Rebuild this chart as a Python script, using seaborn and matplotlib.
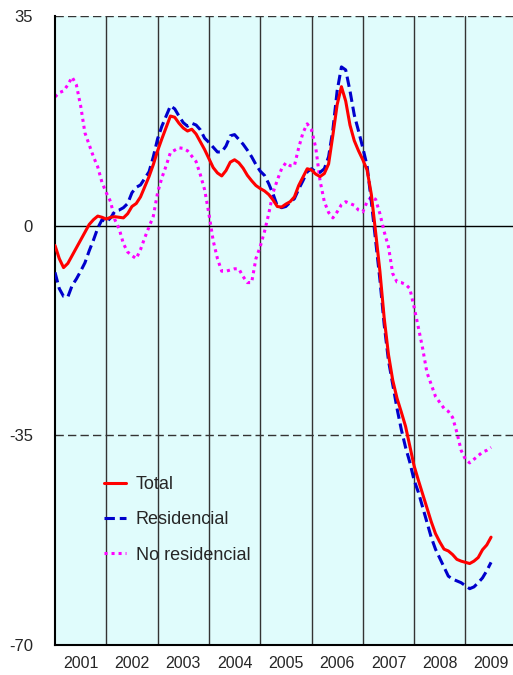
import numpy as np
import pandas as pd
import seaborn as sns
import matplotlib.pyplot as plt

# monthly series, Jan 2001 - Jul 2009
total = [-3.3, -5.5, -7.0, -6.3, -5.0, -3.7, -2.4, -1.1, 0.2, 1.0, 1.6, 1.4,
         1.1, 1.4, 1.5, 1.4, 1.3, 2.0, 3.2, 3.7, 4.8, 6.5, 8.2, 10.2,
         12.5, 14.5, 16.4, 18.3, 18.1, 17.1, 16.3, 15.8, 16.1, 15.3, 14.0, 12.7,
         11.2, 9.7, 8.8, 8.3, 9.2, 10.6, 11.0, 10.5, 9.6, 8.4, 7.5, 6.7,
         6.2, 5.8, 5.2, 4.3, 3.2, 3.1, 3.6, 4.0, 4.8, 6.7, 8.1, 9.5,
         9.3, 8.6, 8.2, 8.7, 10.3, 15.1, 20.2, 23.2, 20.8, 16.8, 14.2, 12.5,
         11.0, 9.3, 5.2, -1.1, -7.6, -15.4, -21.5, -25.8, -28.8, -31.1, -33.5, -36.8,
         -40.1, -42.5, -44.8, -47.1, -49.4, -51.4, -52.8, -54.0, -54.3, -54.9, -55.7, -56.0,
         -56.2, -56.4, -56.0, -55.4, -54.1, -53.3, -52.0]
residencial = [-7.8, -10.5, -11.8, -11.9, -10.0, -8.9, -7.6, -6.2, -4.2, -2.4, -0.4, 1.0,
               0.6, 1.3, 2.4, 2.6, 3.0, 3.7, 5.5, 6.4, 6.8, 7.9, 9.0, 11.5,
               14.5, 16.6, 18.3, 20.0, 19.5, 18.3, 17.2, 16.6, 17.1, 16.8, 16.0, 14.6,
               13.9, 13.1, 12.3, 12.3, 13.3, 15.0, 15.2, 14.4, 13.6, 12.6, 11.5, 10.2,
               9.1, 8.4, 7.0, 5.3, 3.3, 3.0, 3.2, 3.9, 4.5, 6.1, 7.5, 9.0,
               9.5, 9.0, 8.9, 9.5, 11.5, 16.0, 22.5, 26.5, 26.0, 22.5, 18.5, 15.8,
               13.0, 10.0, 4.0, -2.5, -9.0, -16.5, -22.5, -26.5, -30.5, -34.0, -37.0, -39.5,
               -42.5, -44.5, -47.0, -49.5, -52.0, -54.0, -55.5, -57.0, -58.5, -59.0, -59.3, -59.6,
               -60.1, -60.6, -60.3, -59.6, -58.8, -57.6, -56.2]
no_residencial = [21.5, 22.2, 22.5, 23.5, 24.8, 23.5, 20.0, 15.5, 13.5, 11.5, 9.8, 7.2,
                  5.5, 4.0, 1.0, -0.5, -3.0, -4.4, -5.0, -5.5, -4.0, -2.0, -0.2, 1.6,
                  5.5, 8.0, 10.0, 12.2, 12.6, 13.0, 12.9, 12.5, 11.6, 10.7, 8.5, 6.0,
                  2.0, -2.5, -5.5, -7.6, -7.6, -7.4, -7.2, -7.2, -8.5, -9.5, -9.5, -5.5,
                  -3.5, -1.0, 2.0, 5.5, 7.6, 9.5, 10.5, 10.0, 10.0, 13.0, 15.5, 17.0,
                  16.0, 13.0, 7.5, 4.0, 2.2, 1.3, 2.3, 3.5, 4.0, 3.7, 3.4, 2.6,
                  2.3, 4.0, 4.8, 4.4, 2.0, -1.0, -3.5, -8.0, -9.4, -9.5, -9.8, -10.5,
                  -13.6, -17.0, -20.5, -24.5, -26.5, -28.5, -29.5, -30.5, -31.0, -32.0, -34.5, -37.5,
                  -39.0, -39.6, -39.0, -38.4, -37.8, -37.5, -37.0]
years = [2001, 2002, 2003, 2004, 2005, 2006, 2007, 2008, 2009]
y_ticks = [-70, -35, 0, 35]

df = pd.DataFrame({"t": 2001 + np.arange(len(total)) / 12,
                   "Total": total, "Residencial": residencial,
                   "No residencial": no_residencial})

sns.set_style("white")
plt.rcParams["font.family"] = ["Liberation Sans", "DejaVu Sans"]

fig = plt.figure(figsize=(5.13, 6.75), dpi=100)
ax = fig.add_axes([55 / 513, 30 / 675, 458 / 513, 629 / 675])
ax.set_facecolor("#E0FCFC")

# year separators and reference lines
for yr in years[1:]:
    ax.axvline(yr, color="#333333", lw=1, zorder=1)
ax.axhline(0, color="black", lw=1, zorder=1)
for v in (35, -35):
    ax.axhline(v, color="#333333", lw=1, ls=(0, (6, 3)), zorder=1)

sns.lineplot(data=df, x="t", y="Total", ax=ax, color="#FF0000", lw=2.2, label="Total", zorder=4)
sns.lineplot(data=df, x="t", y="Residencial", ax=ax, color="#0000CC", lw=2.2,
             label="Residencial", zorder=3)
sns.lineplot(data=df, x="t", y="No residencial", ax=ax, color="#FF00FF", lw=2.2,
             label="No residencial", zorder=2)
ax.lines[-2].set_dashes((3.4, 1.6))
ax.lines[-1].set_dashes((1, 1.3))

ax.set_xlim(2001, 2001 + 458 / 51.3)
ax.set_ylim(-70, 35)
ax.set_yticks(y_ticks)
ax.set_yticklabels([str(v) for v in y_ticks])
ax.set_xticks([y + 0.5 for y in years])
ax.set_xticklabels([str(y) for y in years])
ax.tick_params(axis="y", length=6, width=1, color="black", pad=10, labelsize=12)
ax.tick_params(axis="x", length=0, pad=8, labelsize=11.5)
ax.set_xlabel("")
ax.set_ylabel("")

for s in ("top", "right"):
    ax.spines[s].set_visible(False)
for s in ("left", "bottom"):
    ax.spines[s].set_color("black")
    ax.spines[s].set_linewidth(1.5)

ax.legend(loc="upper left", bbox_to_anchor=(0.107, 0.268), frameon=False, fontsize=13,
          handlelength=1.2, handletextpad=0.55, labelspacing=1.0,
          borderpad=0, borderaxespad=0)

fig.savefig("out.png", dpi=100)
